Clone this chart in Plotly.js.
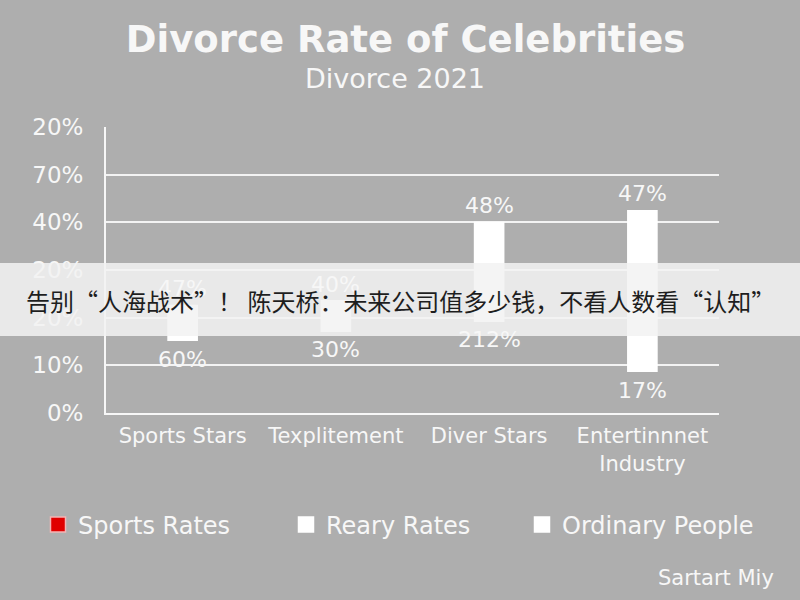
<!DOCTYPE html>
<html>
<head>
<meta charset="utf-8">
<script src="https://cdn.plot.ly/plotly-3.0.1.min.js"></script>
<style>html,body{margin:0;padding:0;background:#aeaeae;}#chart{width:800px;height:600px;}</style>
</head>
<body>
<div id="chart"></div>
<script>
// ---- data ----
const categories = ["Sports Stars", "Texplitement", "Diver Stars", "Entertinnnet<br>Industry"];
const barBottoms = [15.1, 17.0, 19.1, 8.6];   // position on the axis (axis units 0-60)
const barTops    = [22.7, 23.7, 40.1, 42.6];
const topLabels    = ["47%", "40%", "48%", "47%"];
const bottomLabels = ["60%", "30%", "212%", "17%"];
const yTickVals  = [0, 10, 20, 30, 40, 50, 60];
const yTickText  = ["0%", "10%", "20%", "20%", "40%", "70%", "20%"];
const legendNames  = ["Sports Rates", "Reary Rates", "Ordinary People"];
const legendColors = ["#e00000", "#ffffff", "#ffffff"];
const legendLines  = ["#f3b5b5", "#ffffff", "#ffffff"];
const titleText = "Divorce Rate of Celebrities";
const subtitleText = "Divorce 2021";
const bannerText = "告别“人海战术”！ 陈天桥：未来公司值多少钱，不看人数看“认知”";
const creditText = "Sartart Miy";

const FONT = "'DejaVu Sans', 'Open Sans', sans-serif";
const WHITE = "#f7f7f7";

const traces = [];
traces.push({
  type: "bar",
  x: categories,
  y: barTops.map((t, i) => t - barBottoms[i]),
  base: barBottoms,
  width: 0.2,
  marker: {color: "#ffffff", line: {width: 0}},
  showlegend: false,
  hoverinfo: "skip"
});
const legendIds = ["legend", "legend2", "legend3"];
legendNames.forEach((n, i) => {
  traces.push({
    type: "scatter", mode: "markers",
    x: [null], y: [null], name: n,
    legend: legendIds[i],
    marker: {symbol: "square", size: 15, color: legendColors[i], line: {color: legendLines[i], width: 1.5}},
    hoverinfo: "skip"
  });
});

const annotations = [];
categories.forEach((c, i) => {
  annotations.push({
    x: c, y: barTops[i], xref: "x", yref: "y", text: topLabels[i],
    showarrow: false, xanchor: "center", yanchor: "middle", yshift: 16,
    font: {family: FONT, size: 22, color: WHITE}
  });
  annotations.push({
    x: c, y: barBottoms[i], xref: "x", yref: "y", text: bottomLabels[i],
    showarrow: false, xanchor: "center", yanchor: "middle", yshift: -18,
    font: {family: FONT, size: 22, color: WHITE}
  });
});
annotations.push(
  {
    text: subtitleText, xref: "paper", yref: "paper",
    x: (395 - 106) / 613, y: (413 - 79) / 286,
    xanchor: "center", yanchor: "middle", showarrow: false,
    font: {family: FONT, size: 27, color: WHITE}
  },
  {
    text: bannerText, xref: "paper", yref: "paper",
    x: (400 - 106) / 613, y: (413 - 300) / 286,
    xanchor: "center", yanchor: "middle", showarrow: false,
    font: {family: "'Noto Sans CJK SC', sans-serif", size: 24, color: "#1e1e1e"}
  },
  {
    text: creditText, xref: "paper", yref: "paper",
    x: (776 - 106) / 613, y: (413 - 578) / 286,
    xanchor: "right", yanchor: "middle", showarrow: false,
    font: {family: FONT, size: 21, color: WHITE}
  }
);

function legendBox(xpx) {
  return {
    orientation: "h",
    xref: "container", yref: "container",
    x: xpx / 800, xanchor: "left",
    y: 0.125, yanchor: "middle",
    font: {family: FONT, size: 24, color: WHITE},
    bgcolor: "rgba(0,0,0,0)",
    itemclick: false, itemdoubleclick: false
  };
}

const layout = {
  width: 800, height: 600,
  paper_bgcolor: "#aeaeae",
  plot_bgcolor: "#aeaeae",
  margin: {l: 106, r: 81, t: 127, b: 187},
  font: {family: FONT, color: WHITE},
  title: {
    text: "<b>" + titleText + "</b>",
    font: {family: FONT, size: 37, color: WHITE},
    x: 0.507, xanchor: "center", y: 0.935, yanchor: "middle"
  },
  xaxis: {
    type: "category",
    range: [-0.5, 3.5],
    showgrid: false, zeroline: false,
    showline: true, linecolor: "rgba(255,255,255,0.9)", linewidth: 2,
    ticks: "", ticklabelstandoff: 3,
    tickfont: {family: FONT, size: 21, color: WHITE},
    fixedrange: true
  },
  yaxis: {
    range: [0, 60],
    tickvals: yTickVals, ticktext: yTickText,
    showgrid: true, gridcolor: "rgba(255,255,255,0.85)", gridwidth: 2,
    zeroline: false,
    showline: true, linecolor: "rgba(255,255,255,0.9)", linewidth: 2,
    ticks: "", ticklabelstandoff: 16,
    tickfont: {family: FONT, size: 23, color: WHITE},
    fixedrange: true
  },
  showlegend: true,
  legend: legendBox(38),
  legend2: legendBox(286),
  legend3: legendBox(522),
  shapes: [{
    type: "rect", xref: "paper", yref: "paper",
    x0: -106 / 613, x1: 694 / 613,
    y0: (413 - 336) / 286, y1: (413 - 263) / 286,
    fillcolor: "rgba(242,242,242,0.86)", line: {width: 0}, layer: "above"
  }],
  annotations: annotations
};

Plotly.newPlot("chart", traces, layout, {staticPlot: true, displayModeBar: false});
</script>
</body>
</html>
